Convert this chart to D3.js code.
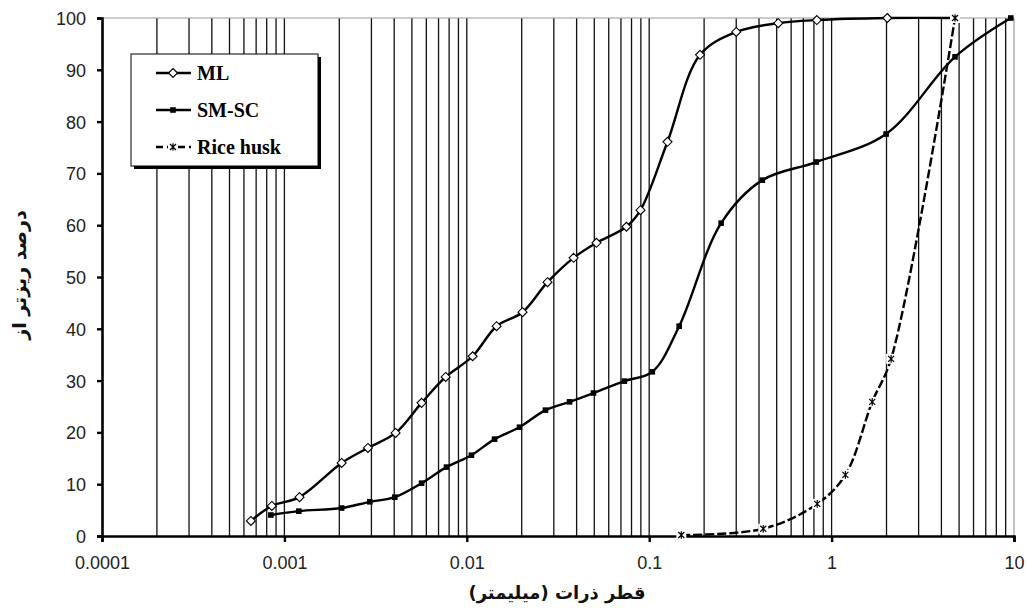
<!DOCTYPE html>
<html lang="fa">
<head>
<meta charset="UTF-8">
<script src="https://d3js.org/d3.v7.min.js"></script>
<style>
  body { margin: 0; background: #fff; }
  .tick-label { font-family: "Liberation Sans", Arial, sans-serif; font-size: 18px; fill: #222; }
  .axis-title { font-family: "DejaVu Sans", sans-serif; font-weight: bold; fill: #111; }
  .legend-text { font-family: "Liberation Serif", "Times New Roman", serif; font-size: 20px; font-weight: bold; fill: #000; }
</style>
</head>
<body>
<svg id="chart"></svg>
<script>
// grain size (mm) and percent finer for each material
const mlSize = [0.000655, 0.000853, 0.00121, 0.00206, 0.00287, 0.00407, 0.00565, 0.00766, 0.01076, 0.01456, 0.0202, 0.0277, 0.0385, 0.0514, 0.075, 0.0896, 0.126, 0.19, 0.30, 0.51, 0.83, 2.02, 4.75];
const mlPass = [2.9, 5.8, 7.5, 14.1, 17, 19.9, 25.7, 30.7, 34.7, 40.5, 43.2, 49.0, 53.7, 56.6, 59.7, 62.9, 76.1, 92.9, 97.3, 99.0, 99.6, 100, 100];

const smscSize = [0.000843, 0.0012, 0.00206, 0.00294, 0.00403, 0.00565, 0.00774, 0.0106, 0.0142, 0.01945, 0.027, 0.0366, 0.0495, 0.0731, 0.104, 0.146, 0.248, 0.417, 0.824, 1.99, 4.75, 9.6];
const smscPass = [4.05, 4.8, 5.4, 6.6, 7.5, 10.2, 13.3, 15.6, 18.7, 21.0, 24.3, 25.9, 27.6, 29.9, 31.7, 40.5, 60.4, 68.7, 72.2, 77.6, 92.5, 100];

const riceSize = [0.15, 0.422, 0.834, 1.19, 1.67, 2.12, 4.75];
const ricePass = [0.2, 1.4, 6.2, 11.8, 25.9, 34.2, 100];

const xTicks = [0.0001, 0.001, 0.01, 0.1, 1, 10];
const xTickLabels = ["0.0001", "0.001", "0.01", "0.1", "1", "10"];
const yTicks = [0, 10, 20, 30, 40, 50, 60, 70, 80, 90, 100];

const width = 1026, height = 612;
const margin = { top: 18, right: 12, bottom: 76, left: 102 };

const svg = d3.select("#chart").attr("width", width).attr("height", height);

const x = d3.scaleLog().domain([0.0001, 10]).range([margin.left, width - margin.right]);
const y = d3.scaleLinear().domain([0, 100]).range([height - margin.bottom, margin.top]);

// vertical grid lines at every 1..9 of each decade
const gridVals = [];
for (let e = -4; e < 1; e++) {
  for (let m = 1; m <= 9; m++) {
    const v = m * Math.pow(10, e);
    if (v > 0.0001) gridVals.push(v);
  }
}
svg.append("g").selectAll("line").data(gridVals).enter().append("line")
  .attr("x1", d => x(d)).attr("x2", d => x(d))
  .attr("y1", y(0)).attr("y2", y(100))
  .attr("stroke", "#111").attr("stroke-width", 1.3);

// gray border top and right
svg.append("line").attr("x1", x(0.0001)).attr("x2", x(10)).attr("y1", y(100)).attr("y2", y(100))
  .attr("stroke", "#999").attr("stroke-width", 1.2);
svg.append("line").attr("x1", x(10)).attr("x2", x(10)).attr("y1", y(100)).attr("y2", y(0))
  .attr("stroke", "#999").attr("stroke-width", 1.2);

// axes
const xAxis = svg.append("g")
  .attr("transform", `translate(0,${y(0)})`)
  .call(d3.axisBottom(x).tickValues(xTicks).tickFormat((d, i) => xTickLabels[i]).tickSizeOuter(0).tickSize(6).tickPadding(14));
const yAxis = svg.append("g")
  .attr("transform", `translate(${x(0.0001)},0)`)
  .call(d3.axisLeft(y).tickValues(yTicks).tickSizeOuter(0).tickSize(5).tickPadding(11));
[xAxis, yAxis].forEach(g => {
  g.select(".domain").attr("stroke", "#000").attr("stroke-width", 2.6);
  g.selectAll(".tick line").attr("stroke", "#000").attr("stroke-width", 2.4);
  g.selectAll(".tick text").attr("class", "tick-label").attr("fill", "#222");
});
yAxis.selectAll(".tick text").attr("dy", "0.36em");

// axis titles
svg.append("text").attr("class", "axis-title")
  .attr("x", 557).attr("y", 599).attr("text-anchor", "middle")
  .attr("direction", "rtl").style("font-size", "18px")
  .text("قطر ذرات (میلیمتر)");
svg.append("text").attr("class", "axis-title")
  .attr("transform", `translate(26,275) rotate(-90)`)
  .attr("text-anchor", "middle")
  .attr("direction", "rtl").style("font-size", "19px")
  .text("درصد ریزتر از");

const line = d3.line().x(d => x(d[0])).y(d => y(d[1])).curve(d3.curveCatmullRom.alpha(0.5));

const ml = mlSize.map((s, i) => [s, mlPass[i]]);
const smsc = smscSize.map((s, i) => [s, smscPass[i]]);
const rice = riceSize.map((s, i) => [s, ricePass[i]]);

svg.append("path").datum(smsc).attr("d", line)
  .attr("fill", "none").attr("stroke", "#000").attr("stroke-width", 2.4);
svg.append("path").datum(ml).attr("d", line)
  .attr("fill", "none").attr("stroke", "#000").attr("stroke-width", 2.4);
svg.append("path").datum(rice).attr("d", line)
  .attr("fill", "none").attr("stroke", "#000").attr("stroke-width", 2.4)
  .attr("stroke-dasharray", "9,3");

// markers
const diamond = "M0,-4.5L4.5,0L0,4.5L-4.5,0Z";
const starPath = "M-3,-3L3,3M-3,3L3,-3M0,-3.8L0,3.8";

function drawSquares(g, data) {
  g.selectAll("rect.sq").data(data).enter().append("rect").attr("class", "sq")
    .attr("x", d => x(d[0]) - 2.8).attr("y", d => y(d[1]) - 2.8)
    .attr("width", 5.6).attr("height", 5.6).attr("fill", "#000");
}
function drawDiamonds(g, data) {
  g.selectAll("path.dm").data(data).enter().append("path").attr("class", "dm")
    .attr("transform", d => `translate(${x(d[0])},${y(d[1])})`)
    .attr("d", diamond).attr("fill", "#fff").attr("stroke", "#000").attr("stroke-width", 1.1);
}
function drawStars(g, data) {
  const s = g.selectAll("g.st").data(data).enter().append("g").attr("class", "st")
    .attr("transform", d => `translate(${x(d[0])},${y(d[1])})`);
  s.append("rect").attr("x", -5).attr("y", -5).attr("width", 10).attr("height", 10).attr("fill", "#fff");
  s.append("path").attr("d", starPath).attr("stroke", "#000").attr("stroke-width", 1.2).attr("fill", "none");
}

drawSquares(svg.append("g"), smsc);
drawDiamonds(svg.append("g"), ml);
drawStars(svg.append("g"), rice);

// legend
const lg = svg.append("g").attr("transform", "translate(131,54)");
lg.append("rect").attr("x", 3).attr("y", 3).attr("width", 187).attr("height", 112).attr("fill", "#000");
lg.append("rect").attr("x", 0).attr("y", 0).attr("width", 187).attr("height", 112)
  .attr("fill", "#fff").attr("stroke", "#000").attr("stroke-width", 1);

const legendNames = ["ML", "SM-SC", "Rice husk"];
const legendRows = [19, 56, 93];
legendNames.forEach((name, i) => {
  const row = lg.append("g").attr("transform", `translate(0,${legendRows[i]})`);
  row.append("line").attr("x1", 25).attr("x2", 60).attr("y1", 0).attr("y2", 0)
    .attr("stroke", "#000").attr("stroke-width", 2.4)
    .attr("stroke-dasharray", i === 2 ? "7,4" : null);
  if (i === 0) {
    row.append("path").attr("transform", "translate(42,0)").attr("d", diamond)
      .attr("fill", "#fff").attr("stroke", "#000").attr("stroke-width", 1.1);
  } else if (i === 1) {
    row.append("rect").attr("x", 39.2).attr("y", -2.8).attr("width", 5.6).attr("height", 5.6).attr("fill", "#000");
  } else {
    row.append("rect").attr("x", 37).attr("y", -5).attr("width", 10).attr("height", 10).attr("fill", "#fff");
    row.append("path").attr("transform", "translate(42,0)").attr("d", starPath)
      .attr("stroke", "#000").attr("stroke-width", 1.2);
  }
  row.append("text").attr("class", "legend-text").attr("x", 66).attr("y", 0).attr("dy", "0.35em").text(name);
});
</script>
</body>
</html>
